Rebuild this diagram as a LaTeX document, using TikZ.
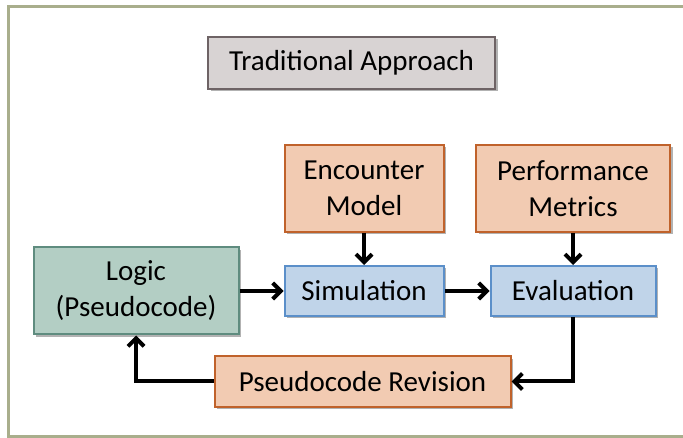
\documentclass[tikz,border=0pt]{standalone}
\usepackage{fontspec}
\setmainfont{Carlito}
\usetikzlibrary{arrows.meta,shadows}
\definecolor{framegreen}{HTML}{A9AE8C}
\definecolor{orangefill}{HTML}{F2CBB2}
\definecolor{orangeline}{HTML}{C0622B}
\definecolor{bluefill}{HTML}{C0D4E9}
\definecolor{blueline}{HTML}{5B8FC9}
\definecolor{greenfill}{HTML}{B3CEC4}
\definecolor{greenline}{HTML}{5F8C7F}
\definecolor{greyfill}{HTML}{D8D3D3}
\definecolor{greyline}{HTML}{6E6365}
\tikzset{
  box/.style={draw, line width=2pt, align=center, inner sep=0pt,
    font=\fontsize{29}{36}\selectfont,
    drop shadow={shadow xshift=2.5pt, shadow yshift=-2.5pt, opacity=0.3, fill=black}},
  orangebox/.style={box, fill=orangefill, draw=orangeline},
  bluebox/.style={box, fill=bluefill, draw=blueline},
  flow/.style={line width=4pt, -{Straight Barb[length=8pt, width=16pt, line width=4pt]}}
}
\begin{document}
\begin{tikzpicture}[x=1pt, y=-1pt]
  \useasboundingbox (0,0) rectangle (683,438);
  \draw[line width=3pt, framegreen] (8,7) rectangle (700,436);
  \node[box, fill=greyfill, draw=greyline, minimum width=287pt, minimum height=52pt] (title) at (351.5,63) {Traditional Approach};
  \node[box, fill=greenfill, draw=greenline, minimum width=205pt, minimum height=87pt] (logic) at (136,291) {Logic\\(Pseudocode)};
  \node[orangebox, minimum width=159pt, minimum height=87pt] (encounter) at (364,188.5) {Encounter\\Model};
  \node[orangebox, minimum width=194pt, minimum height=87pt] (metrics) at (573,188.5) {Performance\\Metrics};
  \node[bluebox, minimum width=159pt, minimum height=50pt] (sim) at (364,291) {Simulation};
  \node[bluebox, minimum width=165pt, minimum height=50pt] (eval) at (573,291) {Evaluation};
  \node[orangebox, minimum width=296pt, minimum height=50pt] (revision) at (362.5,381.5) {Pseudocode Revision};
  \draw[flow] (logic) -- (sim);
  \draw[flow] (sim) -- (eval);
  \draw[flow] (encounter) -- (sim);
  \draw[flow] (metrics) -- (eval);
  \draw[flow] (eval.south) |- (revision.east);
  \draw[flow] (revision.west) -| (logic.south);
\end{tikzpicture}
\end{document}
